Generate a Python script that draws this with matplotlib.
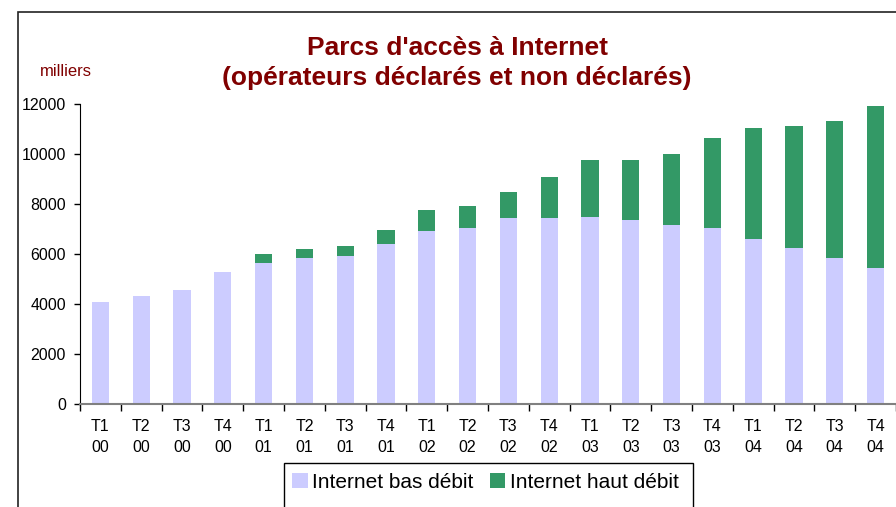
import matplotlib
matplotlib.use("Agg")
import matplotlib.pyplot as plt
import numpy as np
from matplotlib.patches import Rectangle

# quarterly counts, thousands
quarters = ["T1", "T2", "T3", "T4"] * 5
years = ["00"] * 4 + ["01"] * 4 + ["02"] * 4 + ["03"] * 4 + ["04"] * 4
bas_debit = [4080, 4320, 4560, 5280, 5640, 5840, 5920, 6400, 6920, 7040,
             7440, 7440, 7480, 7360, 7160, 7040, 6600, 6240, 5840, 5440]
haut_debit = [0, 0, 0, 0, 360, 360, 400, 560, 840, 880,
              1040, 1640, 2280, 2400, 2840, 3600, 4440, 4880, 5480, 6480]
y_ticks = [0, 2000, 4000, 6000, 8000, 10000, 12000]

W, H = 896, 507
plt.rcParams['font.family'] = ['Liberation Sans', 'DejaVu Sans']

fig = plt.figure(figsize=(W / 100, H / 100), dpi=100)
fig.patch.set_facecolor("white")

# outer frame of the chart area (cut off at right and bottom)
fig.patches.append(Rectangle((18 / W, -0.05), 1.2, 1 - 12 / H + 0.05,
                             transform=fig.transFigure, fill=False,
                             edgecolor="#222222", linewidth=1.2))

ax = fig.add_axes([80 / W, 1 - 404 / H, 816 / W, 300 / H])

x = np.arange(len(bas_debit))
ax.bar(x, bas_debit, width=0.42, color="#CCCCFF", label="Internet bas débit")
ax.bar(x, haut_debit, width=0.42, bottom=bas_debit, color="#339966",
       label="Internet haut débit")

ax.set_xlim(-0.5, len(x) - 0.5)
ax.set_ylim(0, 12000)
ax.set_yticks(y_ticks)
ax.set_yticklabels([str(v) for v in y_ticks])

labels = [q + "\n" + y for q, y in zip(quarters, years)]
ax.set_xticks(x)
ax.set_xticklabels(labels, linespacing=1.45)
ax.set_xticks(np.arange(len(x) + 1) - 0.5, minor=True)
ax.tick_params(axis="x", which="major", length=0, pad=11, labelsize=11.5)
ax.tick_params(axis="x", which="minor", length=5, width=1, color="black")
ax.tick_params(axis="y", length=4, width=1, pad=6, labelsize=11.5)

for side in ["top", "right"]:
    ax.spines[side].set_visible(False)
ax.spines["left"].set_color("black")
ax.spines["bottom"].set_color("#808080")
ax.spines["bottom"].set_linewidth(1.5)

fig.text(457 / W, 1 - 63 / H, "Parcs d'accès à Internet\n(opérateurs déclarés et non déclarés)",
         ha="center", va="center", fontsize=19, fontweight="bold",
         color="#800000", linespacing=1.3)
fig.text(40 / W, 1 - 71 / H, "milliers", ha="left", va="center",
         fontsize=12, color="#800000")

# legend box runs past the bottom edge
fig.patches.append(Rectangle((284 / W, -0.05), 409 / W, (507 - 463) / H + 0.05,
                             transform=fig.transFigure, fill=False,
                             edgecolor="black", linewidth=1))
leg = fig.legend(loc="upper left", bbox_to_anchor=(292 / W, 1 - 473 / H),
                 ncol=2, fontsize=15, frameon=False,
                 handlelength=0.75, handleheight=0.75, handletextpad=0.2,
                 columnspacing=0.8, borderpad=0, borderaxespad=0)

fig.savefig("out.png", dpi=100)
